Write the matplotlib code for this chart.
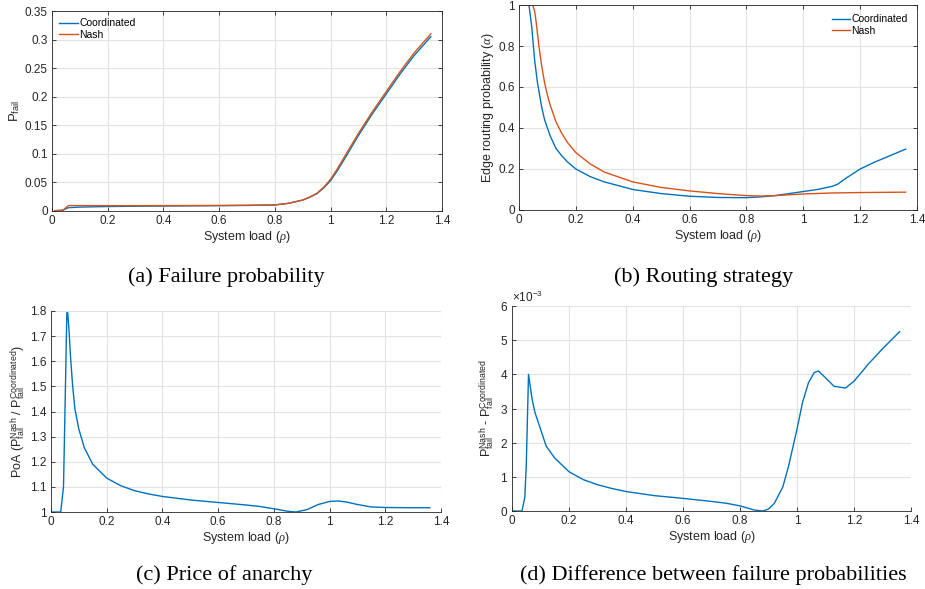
import matplotlib
matplotlib.use("Agg")
import matplotlib.pyplot as plt
from matplotlib.ticker import FuncFormatter, ScalarFormatter, MultipleLocator

plt.rcParams['font.family'] = ['Liberation Sans', 'DejaVu Sans']
plt.rcParams['mathtext.fontset'] = 'custom'
plt.rcParams['mathtext.rm'] = 'Liberation Sans'
plt.rcParams['mathtext.it'] = 'Liberation Serif:italic'
plt.rcParams['mathtext.bf'] = 'Liberation Sans:bold'

# (a) failure probability
rho_a = [0.01, 0.03, 0.04, 0.05, 0.06, 0.1, 0.2, 0.3, 0.4, 0.5, 0.6, 0.7, 0.8, 0.85,
         0.9, 0.925, 0.95, 0.975, 1.0, 1.025, 1.05, 1.1, 1.15, 1.2, 1.25, 1.3, 1.36]
pfail_coord = [0.0005, 0.001, 0.0015, 0.004, 0.0058, 0.0068, 0.0078, 0.0083, 0.0087, 0.009,
               0.0093, 0.0097, 0.0105, 0.0135, 0.019, 0.024, 0.030, 0.040, 0.053, 0.071,
               0.091, 0.132, 0.170, 0.205, 0.240, 0.272, 0.305]
pfail_nash = [0.0005, 0.001, 0.0015, 0.006, 0.0095, 0.0094, 0.0093, 0.0093, 0.0094, 0.0095,
              0.0097, 0.0100, 0.0106, 0.0135, 0.0192, 0.0243, 0.0307, 0.0412, 0.0555, 0.0742,
              0.0948, 0.1358, 0.1736, 0.209, 0.2443, 0.2767, 0.310]

# (b) routing strategy
rho_b_coord = [0.01, 0.035, 0.045, 0.055, 0.065, 0.08, 0.09, 0.1, 0.11, 0.13, 0.15, 0.17,
               0.2, 0.25, 0.3, 0.4, 0.5, 0.6, 0.7, 0.8, 0.85, 0.9, 1.0, 1.05, 1.1, 1.12,
               1.15, 1.2, 1.25, 1.3, 1.36]
alpha_coord = [1.0, 1.0, 0.89, 0.73, 0.62, 0.5, 0.44, 0.4, 0.36, 0.3, 0.265, 0.235, 0.2,
               0.163, 0.137, 0.1, 0.08, 0.067, 0.061, 0.06, 0.064, 0.07, 0.09, 0.1, 0.115,
               0.125, 0.155, 0.2, 0.233, 0.262, 0.297]
rho_b_nash = [0.01, 0.048, 0.055, 0.06, 0.07, 0.08, 0.09, 0.1, 0.11, 0.12, 0.13, 0.15, 0.17,
              0.2, 0.25, 0.3, 0.4, 0.5, 0.6, 0.7, 0.8, 0.85, 0.9, 1.0, 1.1, 1.2, 1.36]
alpha_nash = [1.0, 1.0, 0.97, 0.92, 0.8, 0.70, 0.62, 0.56, 0.51, 0.47, 0.43, 0.375, 0.33,
              0.28, 0.225, 0.185, 0.137, 0.11, 0.093, 0.08, 0.07, 0.068, 0.07, 0.078, 0.083,
              0.085, 0.087]

# (c) price of anarchy
rho_c = [0, 0.035, 0.045, 0.052, 0.057, 0.06, 0.065, 0.07, 0.078, 0.086, 0.1, 0.12, 0.15,
         0.2, 0.25, 0.3, 0.35, 0.4, 0.5, 0.6, 0.7, 0.75, 0.8, 0.85, 0.88, 0.92, 0.96, 1.0,
         1.03, 1.06, 1.1, 1.15, 1.2, 1.3, 1.36]
poa = [1.0, 1.0, 1.1, 1.5, 1.793, 1.793, 1.72, 1.62, 1.5, 1.41, 1.33, 1.255, 1.19, 1.135,
       1.105, 1.085, 1.072, 1.062, 1.048, 1.038, 1.028, 1.022, 1.013, 1.003, 1.0, 1.01, 1.03,
       1.042, 1.044, 1.04, 1.03, 1.02, 1.018, 1.017, 1.017]

# (d) difference between failure probabilities
rho_d = [0, 0.035, 0.045, 0.05, 0.058, 0.065, 0.07, 0.08, 0.1, 0.12, 0.15, 0.2, 0.25, 0.3,
         0.35, 0.4, 0.5, 0.6, 0.7, 0.75, 0.8, 0.85, 0.88, 0.9, 0.92, 0.95, 0.97, 1.0, 1.02,
         1.04, 1.06, 1.075, 1.1, 1.13, 1.17, 1.2, 1.25, 1.3, 1.36]
pfail_diff = [0, 0, 0.0004, 0.0013, 0.004, 0.0036, 0.0033, 0.0029, 0.0024, 0.0019, 0.00155,
              0.00115, 0.00092, 0.00077, 0.00066, 0.00057, 0.00045, 0.00037, 0.00028,
              0.00023, 0.00015, 0.00003, 0.0, 0.00006, 0.00022, 0.0007, 0.0013, 0.0024,
              0.0032, 0.00375, 0.00405, 0.0041, 0.0039, 0.00365, 0.0036, 0.0038, 0.0043,
              0.00475, 0.00525]

blue = '#0072BD'
orange = '#D95319'
dark = '#262626'
fmt = FuncFormatter(lambda v, p: '%g' % round(v, 6))

fig = plt.figure(figsize=(9.25, 5.89), dpi=100)


def style(ax, box):
    ax.grid(True, color='#e3e3e3', linewidth=0.8)
    ax.set_axisbelow(True)
    ax.tick_params(direction='in', length=3, width=0.6, labelsize=8.5, colors=dark,
                   top=box, right=box, pad=3)
    for s in ['left', 'bottom']:
        ax.spines[s].set_color(dark)
        ax.spines[s].set_linewidth(0.6)
    for s in ['top', 'right']:
        ax.spines[s].set_visible(box)
        ax.spines[s].set_color(dark)
        ax.spines[s].set_linewidth(0.6)
    ax.set_xlim(0, 1.4)
    ax.xaxis.set_major_locator(MultipleLocator(0.2))
    ax.xaxis.set_major_formatter(fmt)
    ax.set_xlabel(r'System load ($\rho$)', fontsize=9, color=dark, labelpad=1)


ax1 = fig.add_axes([0.0562, 0.6418, 0.4216, 0.3395])
ax1.plot(rho_a, pfail_coord, color=blue, lw=1.0, label='Coordinated')
ax1.plot(rho_a, pfail_nash, color=orange, lw=1.0, label='Nash')
style(ax1, True)
ax1.set_ylim(0, 0.35)
ax1.yaxis.set_major_locator(MultipleLocator(0.05))
ax1.yaxis.set_major_formatter(fmt)
ax1.set_ylabel(r'P$_{\mathrm{fail}}$', fontsize=9.5, color=dark, labelpad=2)
ax1.legend(loc='upper left', frameon=False, fontsize=7.5, handlelength=1.8,
           handletextpad=0.1, labelspacing=0.15, borderaxespad=0.3)

ax2 = fig.add_axes([0.5611, 0.6435, 0.4303, 0.348])
ax2.plot(rho_b_coord, alpha_coord, color=blue, lw=1.0, label='Coordinated')
ax2.plot(rho_b_nash, alpha_nash, color=orange, lw=1.0, label='Nash')
style(ax2, True)
ax2.set_ylim(0, 1)
ax2.yaxis.set_major_locator(MultipleLocator(0.2))
ax2.yaxis.set_major_formatter(fmt)
ax2.set_ylabel(r'Edge routing probability ($\alpha$)', fontsize=9, color=dark, labelpad=2)
ax2.legend(loc='upper right', frameon=False, fontsize=7.5, handlelength=1.8,
           handletextpad=0.1, labelspacing=0.15, borderaxespad=0.5)

ax3 = fig.add_axes([0.0551, 0.1307, 0.4216, 0.3413])
ax3.plot(rho_c, poa, color=blue, lw=1.0)
style(ax3, False)
ax3.set_ylim(1, 1.8)
ax3.yaxis.set_major_locator(MultipleLocator(0.1))
ax3.yaxis.set_major_formatter(fmt)
ax3.set_ylabel(r'PoA (P$_{\mathrm{fail}}^{\mathrm{Nash}}$ / P$_{\mathrm{fail}}^{\mathrm{Coordinated}}$)',
               fontsize=9, color=dark, labelpad=2)

ax4 = fig.add_axes([0.5535, 0.1324, 0.4314, 0.348])
ax4.plot(rho_d, pfail_diff, color=blue, lw=1.0)
style(ax4, False)
ax4.set_ylim(0, 0.006)
ax4.yaxis.set_major_locator(MultipleLocator(0.001))
sf = ScalarFormatter(useMathText=True)
sf.set_powerlimits((-3, -3))
ax4.yaxis.set_major_formatter(sf)
ax4.yaxis.get_offset_text().set_fontsize(8.5)
ax4.yaxis.get_offset_text().set_color(dark)
ax4.set_ylabel(r'P$_{\mathrm{fail}}^{\mathrm{Nash}}$ - P$_{\mathrm{fail}}^{\mathrm{Coordinated}}$',
               fontsize=9, color=dark, labelpad=2)

cap = dict(family='Liberation Serif', fontsize=16, ha='center', va='baseline', color='black')
fig.text(226 / 925, 1 - 282 / 589, '(a) Failure probability', **cap)
fig.text(704 / 925, 1 - 282 / 589, '(b) Routing strategy', **cap)
fig.text(224 / 925, 1 - 580 / 589, '(c) Price of anarchy', **cap)
fig.text(713 / 925, 1 - 580 / 589, '(d) Difference between failure probabilities', **cap)

fig.savefig('out.png', dpi=100)
plt.close(fig)
